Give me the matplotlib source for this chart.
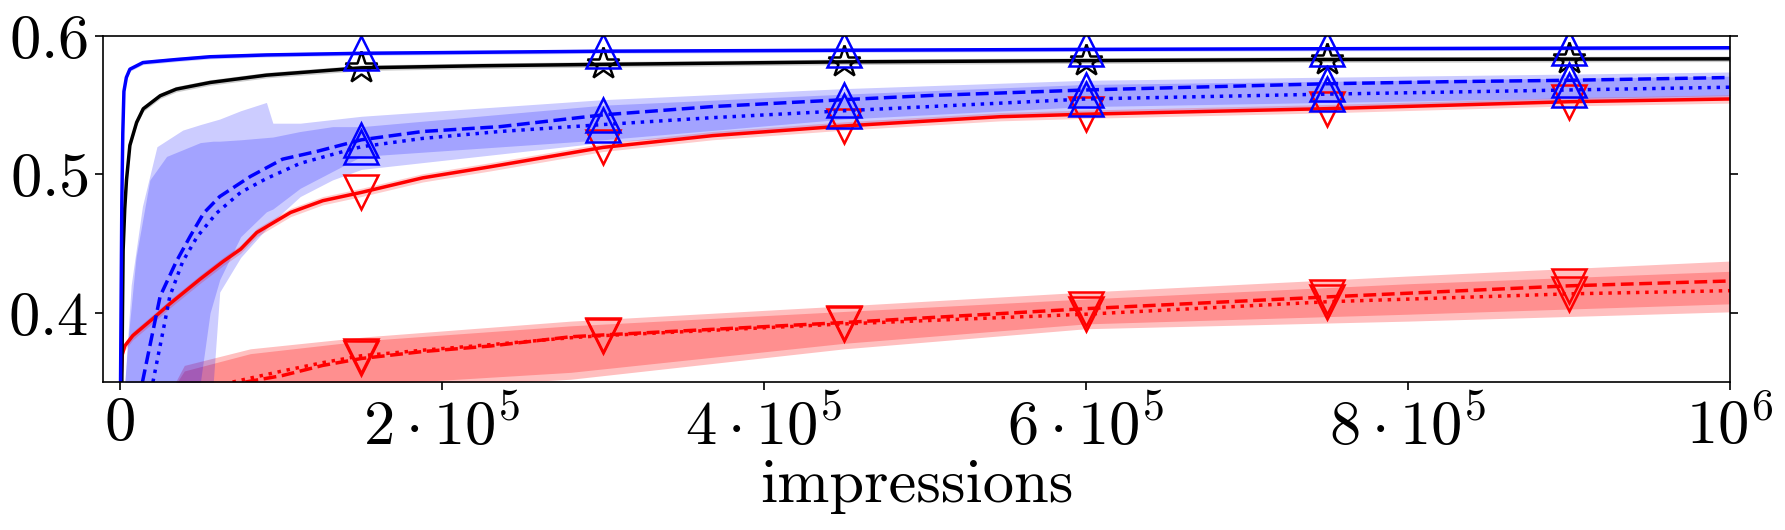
import numpy as np
import matplotlib
matplotlib.use('Agg')
import matplotlib.pyplot as plt

plt.rcParams['font.family'] = 'serif'
plt.rcParams['font.serif'] = ['cmr10']
plt.rcParams['mathtext.fontset'] = 'cm'
plt.rcParams['axes.unicode_minus'] = False

mark_x = [150000, 300000, 450000, 600000, 750000, 900000]

# blue solid
bs_x = [0, 400, 1200, 1800, 2500, 4000, 6200, 14300, 35000, 56000, 91000,
        150000, 300000, 450000, 600000, 750000, 900000, 1000000]
bs_y = [0.30, 0.35, 0.48, 0.53, 0.56, 0.570, 0.576, 0.5808, 0.583, 0.585, 0.5863,
        0.5875, 0.589, 0.5897, 0.5903, 0.5908, 0.5912, 0.5915]
bs_err = 0.0015

# black solid
bk_x = [0, 1200, 1600, 2000, 3000, 4100, 6200, 10400, 14500, 25000, 35000, 56000,
        91000, 150000, 225000, 300000, 450000, 600000, 750000, 900000, 1000000]
bk_y = [0.30, 0.35, 0.40, 0.445, 0.475, 0.496, 0.521, 0.5376, 0.5474, 0.5568, 0.5616,
        0.5664, 0.5717, 0.577, 0.5785, 0.5795, 0.5813, 0.5822, 0.583, 0.5833, 0.5835]
bk_err = 0.002

# blue dashed
bd_x = [14000, 18600, 25000, 35000, 43500, 52000, 62000, 81000, 101000, 122000,
        150000, 188000, 236000, 300000, 368000, 450000, 503000, 600000, 700000,
        750000, 826000, 900000, 1000000]
bd_y = [0.35, 0.376, 0.412, 0.437, 0.455, 0.472, 0.484, 0.4985, 0.511, 0.5165,
        0.525, 0.531, 0.5345, 0.543, 0.549, 0.554, 0.557, 0.561, 0.564,
        0.5655, 0.567, 0.568, 0.570]

# blue dotted
bp_x = [20500, 27000, 31000, 39000, 48000, 60000, 75000, 91000, 112000, 137000,
        150000, 188000, 236000, 300000, 368000, 450000, 503000, 600000, 750000,
        826000, 900000, 1000000]
bp_y = [0.35, 0.388, 0.412, 0.437, 0.455, 0.472, 0.487, 0.497, 0.508, 0.516,
        0.520, 0.526, 0.531, 0.536, 0.541, 0.546, 0.549, 0.5545, 0.558,
        0.5595, 0.561, 0.563]

# red solid
rs_x = [0, 600, 1500, 3000, 8000, 20700, 31000, 50000, 64000, 75000, 85000, 106000,
        126000, 150000, 188000, 230000, 300000, 368000, 450000, 547000, 600000,
        750000, 826000, 900000, 1000000]
rs_y = [0.30, 0.35, 0.37, 0.376, 0.3835, 0.396, 0.4065, 0.4245, 0.437, 0.446, 0.458,
        0.4725, 0.481, 0.487, 0.4975, 0.5055, 0.5195, 0.528, 0.535, 0.5417, 0.5435,
        0.5475, 0.550, 0.5525, 0.5545]
rs_err = 0.003

# red dashed
rd_x = [78000, 101000, 126000, 150000, 188000, 230000, 280000, 300000, 450000,
        600000, 750000, 900000, 1000000]
rd_y = [0.35, 0.3547, 0.362, 0.367, 0.372, 0.376, 0.3827, 0.384, 0.393,
        0.403, 0.4115, 0.4195, 0.423]

# red dotted
rp_x = [70000, 101000, 126000, 150000, 188000, 230000, 280000, 300000, 450000,
        600000, 750000, 900000, 1000000]
rp_y = [0.35, 0.358, 0.364, 0.369, 0.373, 0.377, 0.382, 0.3835, 0.392,
        0.399, 0.408, 0.4137, 0.416]

# shaded bands of the dashed / dotted runs
ba_x = [2500, 7000, 14000, 23000, 39000, 50000, 56000, 62000, 75000, 91000, 95000,
        112000, 150000, 300000, 450000, 600000, 800000, 1000000]
ba_hi = [0.34, 0.42, 0.477, 0.52, 0.532, 0.536, 0.538, 0.540, 0.546, 0.552, 0.537,
         0.537, 0.542, 0.554, 0.562, 0.568, 0.571, 0.574]
ba_lo = [0.34, 0.34, 0.34, 0.34, 0.34, 0.35, 0.40, 0.424, 0.455, 0.473, 0.475,
         0.490, 0.513, 0.525, 0.540, 0.549, 0.553, 0.557]

bb_x = [2500, 5000, 10000, 18600, 29000, 50000, 58000, 62000, 75000, 95000, 112000,
        132000, 150000, 300000, 450000, 600000, 800000, 1000000]
bb_hi = [0.34, 0.38, 0.44, 0.496, 0.513, 0.523, 0.524, 0.524, 0.525, 0.527, 0.531,
         0.5345, 0.5345, 0.550, 0.558, 0.565, 0.568, 0.571]
bb_lo = [0.34, 0.34, 0.34, 0.34, 0.34, 0.34, 0.35, 0.415, 0.44, 0.466, 0.484,
         0.496, 0.5036, 0.523, 0.535, 0.545, 0.550, 0.555]

rc_x = [30000, 40000, 81000, 153000, 280000, 450000, 600000, 800000, 1000000]
rc_hi = [0.34, 0.362, 0.374, 0.3827, 0.394, 0.405, 0.415, 0.4266, 0.4374]
rc_lo = [0.33, 0.33, 0.33, 0.348, 0.357, 0.378, 0.392, 0.399, 0.4065]
rc2_hi = [0.34, 0.358, 0.3705, 0.380, 0.3906, 0.401, 0.410, 0.421, 0.430]
rc2_lo = [0.33, 0.33, 0.33, 0.344, 0.352, 0.374, 0.3885, 0.394, 0.4007]

xticks = [0, 200000, 400000, 600000, 800000, 1000000]
xlabels = ['$0$', r'$2\cdot10^{5}$', r'$4\cdot10^{5}$', r'$6\cdot10^{5}$',
           r'$8\cdot10^{5}$', r'$10^{6}$']
yticks = [0.4, 0.5, 0.6]
ylabels = ['$0.4$', '$0.5$', '$0.6$']


def marks(xs):
    return [i for i, v in enumerate(xs) if v in mark_x]


fig = plt.figure(figsize=(17.85, 5.3), dpi=100)
ax = fig.add_axes([0.0577, 0.2792, 0.9115, 0.6529])

# bands
ax.fill_between(rc_x, rc_lo, rc_hi, color='red', alpha=0.25, lw=0)
ax.fill_between(rc_x, rc2_lo, rc2_hi, color='red', alpha=0.25, lw=0)
ax.fill_between(ba_x, ba_lo, ba_hi, color='blue', alpha=0.2, lw=0)
ax.fill_between(bb_x, bb_lo, bb_hi, color='blue', alpha=0.2, lw=0)
ax.fill_between(rs_x, np.array(rs_y) - rs_err, np.array(rs_y) + rs_err,
                color='red', alpha=0.2, lw=0)
ax.fill_between(bk_x, np.array(bk_y) - bk_err, np.array(bk_y) + bk_err,
                color='black', alpha=0.2, lw=0)
ax.fill_between(bs_x, np.array(bs_y) - bs_err, np.array(bs_y) + bs_err,
                color='blue', alpha=0.2, lw=0)

lw = 2.5
ms = 24
mew = 1.8
ax.plot(rd_x, rd_y, color='red', ls='--', lw=lw, marker='v', ms=ms, mfc='none',
        mew=mew, markevery=marks(rd_x))
ax.plot(rp_x, rp_y, color='red', ls=':', lw=lw, marker='v', ms=ms, mfc='none',
        mew=mew, markevery=marks(rp_x))
ax.plot(rs_x, rs_y, color='red', ls='-', lw=lw, marker='v', ms=ms, mfc='none',
        mew=mew, markevery=marks(rs_x))
ax.plot(bk_x, bk_y, color='black', ls='-', lw=lw, marker='*', ms=ms, mfc='none',
        mew=mew, markevery=marks(bk_x))
ax.plot(bd_x, bd_y, color='blue', ls='--', lw=lw, marker='^', ms=ms, mfc='none',
        mew=mew, markevery=marks(bd_x))
ax.plot(bp_x, bp_y, color='blue', ls=':', lw=lw, marker='^', ms=ms, mfc='none',
        mew=mew, markevery=marks(bp_x))
ax.plot(bs_x, bs_y, color='blue', ls='-', lw=lw, marker='^', ms=ms, mfc='none',
        mew=mew, markevery=marks(bs_x))

ax.set_xlim(-10500, 1000000)
ax.set_ylim(0.35, 0.6)
ax.set_xticks(xticks)
ax.set_xticklabels(xlabels)
ax.set_yticks(yticks)
ax.set_yticklabels(ylabels)
ax.tick_params(axis='both', direction='out', length=5.5, width=1.2,
               labelsize=45, pad=5)
ax.tick_params(axis='y', right=True, left=True)
for s in ax.spines.values():
    s.set_linewidth(1.2)
ax.set_xlabel('impressions', fontsize=45, labelpad=2)

fig.savefig('out.png', dpi=100)
